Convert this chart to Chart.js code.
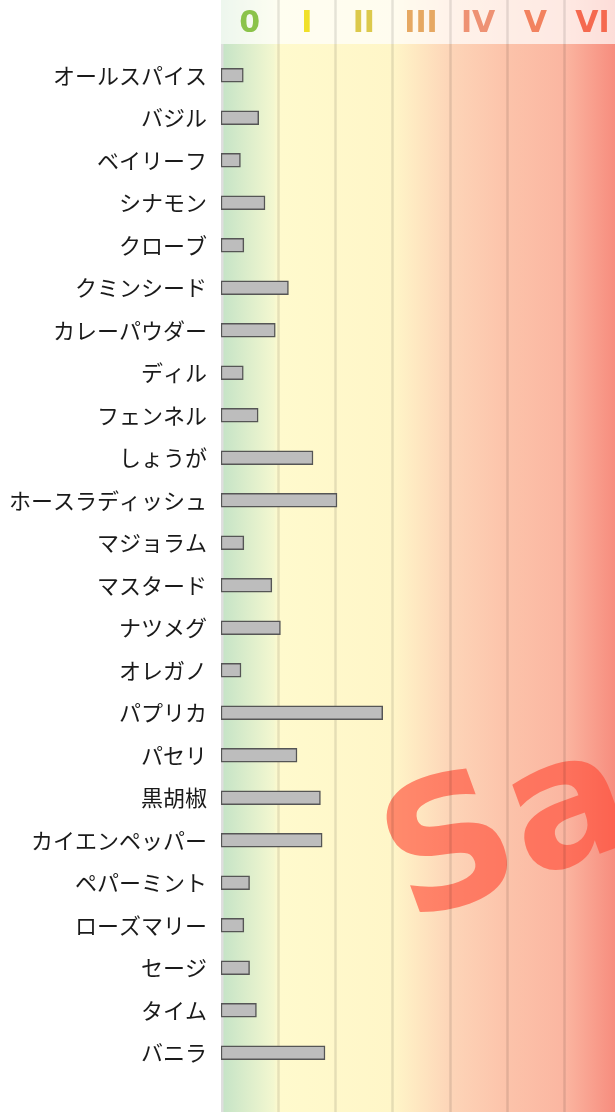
<!DOCTYPE html>
<html>
<head>
<meta charset="utf-8">
<script src="https://cdn.jsdelivr.net/npm/chart.js@4"></script>
<style>
  html, body { margin: 0; padding: 0; background: #fff; overflow: hidden; }
  #wrap { width: 621px; height: 1112px; position: relative; }
</style>
</head>
<body>
<div id="wrap"><canvas id="chart"></canvas></div>
<script>
// spice names (top to bottom) and their level on the 0..VII scale
var SPICES = ['オールスパイス', 'バジル', 'ベイリーフ', 'シナモン', 'クローブ', 'クミンシード',
  'カレーパウダー', 'ディル', 'フェンネル', 'しょうが', 'ホースラディッシュ', 'マジョラム',
  'マスタード', 'ナツメグ', 'オレガノ', 'パプリカ', 'パセリ', '黒胡椒', 'カイエンペッパー',
  'ペパーミント', 'ローズマリー', 'セージ', 'タイム', 'バニラ'];
var LEVELS = [0.39, 0.66, 0.34, 0.77, 0.40, 1.18, 0.95, 0.39, 0.65, 1.61, 2.03, 0.40,
  0.89, 1.04, 0.35, 2.83, 1.33, 1.74, 1.77, 0.50, 0.40, 0.50, 0.62, 1.82];
// band headers, one per unit of the x scale
var BANDS = ['0', 'I', 'II', 'III', 'IV', 'V', 'VI'];
var BAND_COLORS = ['#8bc34a', '#f0e029', '#dcc94b', '#e6a862', '#ee9274', '#f2825f', '#f5694f'];
var WATERMARK = 'Sample';

// background colour stops, keyed by x value
var BG_STOPS = [[0, '#c4e3c6'], [0.92, '#f3f7d0'], [1, '#fffacd'], [3, '#fff6c8'],
  [4, '#fdd5b8'], [5, '#fcc3aa'], [6, '#fbb6a1'], [7, '#f6887a']];

function bgGradient(ctx, xs) {
  var x0 = xs.getPixelForValue(0), x1 = xs.getPixelForValue(7);
  var g = ctx.createLinearGradient(x0, 0, x1, 0);
  BG_STOPS.forEach(function (s) { g.addColorStop(s[0] / 7, s[1]); });
  return g;
}

var backdrop = {
  id: 'backdrop',
  beforeDraw: function (chart) {
    var ctx = chart.ctx, xs = chart.scales.x, H = chart.height;
    var left = xs.getPixelForValue(0), right = xs.getPixelForValue(7);
    var headH = 44;
    ctx.save();
    // plot background
    ctx.fillStyle = bgGradient(ctx, xs);
    ctx.fillRect(left, headH, right - left, H - headH);
    // lighter header strip
    ctx.fillRect(left, 0, right - left, headH);
    ctx.fillStyle = 'rgba(255,255,255,0.7)';
    ctx.fillRect(left, 0, right - left, headH);

    // watermark
    ctx.save();
    ctx.translate(409, 923);
    ctx.rotate(-20 * Math.PI / 180);
    ctx.font = 'bold 178px "DejaVu Sans", sans-serif';
    ctx.fillStyle = 'rgba(255,72,52,0.62)';
    ctx.textBaseline = 'alphabetic';
    ctx.fillText(WATERMARK, 0, 0);
    ctx.restore();

    // vertical grid lines across the full height
    ctx.strokeStyle = 'rgba(0,0,0,0.1)';
    ctx.lineWidth = 2.5;
    xs.ticks.forEach(function (t) {
      if (t.value <= 0 || t.value >= 7) return;
      var px = Math.round(xs.getPixelForValue(t.value)) + 0.5;
      ctx.beginPath(); ctx.moveTo(px, 0); ctx.lineTo(px, H); ctx.stroke();
    });
    // axis strip at zero
    ctx.fillStyle = '#dedede';
    ctx.fillRect(left, headH, 2.5, H - headH);

    // band headers
    ctx.font = 'bold 30px "DejaVu Sans", sans-serif';
    ctx.textAlign = 'center';
    ctx.textBaseline = 'middle';
    BANDS.forEach(function (b, i) {
      ctx.fillStyle = BAND_COLORS[i];
      ctx.fillText(b, xs.getPixelForValue(i + 0.5), 24);
    });
    ctx.restore();
  }
};

new Chart(document.getElementById('chart'), {
  type: 'bar',
  data: {
    labels: SPICES,
    datasets: [{
      data: LEVELS,
      backgroundColor: '#bdbdbd',
      borderColor: '#555555',
      borderWidth: 1.5,
      borderSkipped: false,
      barThickness: 14
    }]
  },
  options: {
    indexAxis: 'y',
    responsive: true,
    maintainAspectRatio: false,
    animation: false,
    layout: { padding: { top: 54, bottom: 38, left: 0, right: 0 } },
    plugins: { legend: { display: false }, tooltip: { enabled: false } },
    scales: {
      x: {
        type: 'linear', min: 0, max: 7, display: false,
        ticks: { stepSize: 1 },
        grid: { display: false }
      },
      y: {
        grid: { display: false },
        border: { display: false },
        afterFit: function (s) { s.width = 221; },
        ticks: {
          color: '#1a1a1a',
          padding: 6,
          font: { family: '"Noto Sans CJK JP", sans-serif', size: 22 }
        }
      }
    }
  },
  plugins: [backdrop]
});
</script>
</body>
</html>
